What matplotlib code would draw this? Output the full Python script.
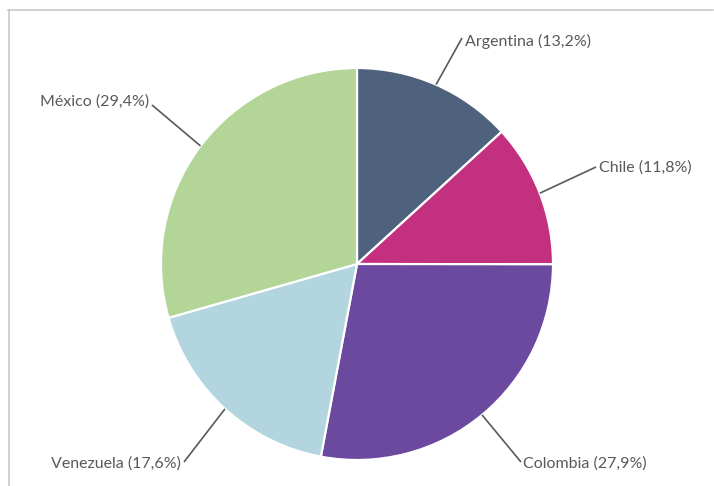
import numpy as np
import matplotlib.pyplot as plt
from matplotlib.lines import Line2D

# datos
paises = ["Argentina", "Chile", "Colombia", "Venezuela", "México"]
porcentajes = [13.2, 11.8, 27.9, 17.6, 29.4]
colores = ["#4F627D", "#C2307F", "#6B499E", "#B2D5DF", "#B3D698"]

W, H = 714, 486
CX, CY, R = 357, 264, 196

# extremo de la guía y posición del texto (píxeles, origen arriba a la izquierda)
guia_fin = [(462, 38), (596, 167), (521, 462), (184, 462), (152, 105)]
texto_pos = [(465, 41, "left"), (599, 168, "left"), (523, 464, "left"),
             (181, 464, "right"), (149, 102, "right")]

plt.rcParams["font.family"] = ["Lato", "DejaVu Sans"]

fig = plt.figure(figsize=(W / 100, H / 100), dpi=100)
ax = fig.add_axes([0, 0, 1, 1])

cuñas, _ = ax.pie(
    porcentajes,
    colors=colores,
    center=(CX, H - CY),
    radius=R,
    startangle=90,
    counterclock=False,
    wedgeprops=dict(edgecolor="white", linewidth=1.6),
)

ax.set_xlim(0, W)
ax.set_ylim(0, H)
ax.set_aspect("equal")
ax.axis("off")

# guías y etiquetas
for cuña, nombre, valor, fin, pos in zip(cuñas, paises, porcentajes, guia_fin, texto_pos):
    ang = np.deg2rad((cuña.theta1 + cuña.theta2) / 2)
    x0 = cuña.center[0] + cuña.r * np.cos(ang)
    y0 = cuña.center[1] + cuña.r * np.sin(ang)
    ax.plot([x0, fin[0]], [y0, H - fin[1]], color="#595959", lw=1.2,
            solid_capstyle="butt")
    etiqueta = f"{nombre} ({valor:.1f}%)".replace(".", ",")
    ax.text(pos[0], H - pos[1], etiqueta, ha=pos[2], va="center",
            fontsize=11.5, color="#595959")

# marco
borde = "#C9C9C9"
fig.add_artist(Line2D([8.5 / W, 8.5 / W], [0, 1 - 10 / H], color=borde, lw=1.2,
                      transform=fig.transFigure))
fig.add_artist(Line2D([8 / W, 713 / W], [1 - 10 / H, 1 - 10 / H], color=borde, lw=1.2,
                      transform=fig.transFigure))

fig.savefig("out.png", dpi=100, facecolor="white")
